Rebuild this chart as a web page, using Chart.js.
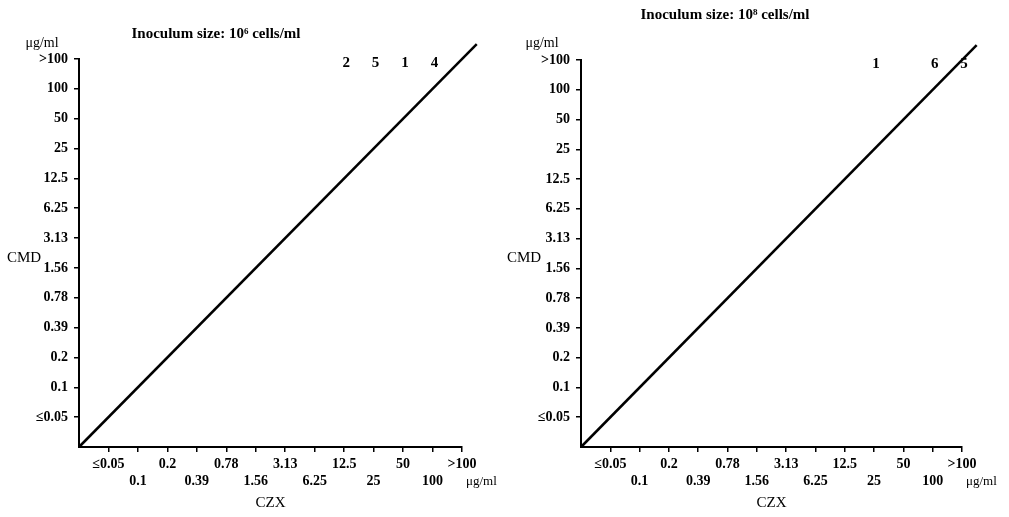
<!DOCTYPE html>
<html lang="en">
<head>
  <meta charset="UTF-8">
  <title>CMD vs CZX</title>
  <script src="https://cdn.jsdelivr.net/npm/chart.js"></script>
  <style>
    body { margin: 0; background: #fff; }
    .wrap { display: flex; width: 1009px; height: 517px; }
    canvas { display: block; }
  </style>
</head>
<body>

<div class="wrap">
  <canvas id="leftChart" width="504" height="517"></canvas>
  <canvas id="rightChart" width="505" height="517"></canvas>
</div>

<script>
  // concentration steps used on both axes (µg/ml)
  const concLabels = ['≤0.05', '0.1', '0.2', '0.39', '0.78', '1.56', '3.13', '6.25', '12.5', '25', '50', '100', '>100'];

  // left panel: strain counts (CZX column, CMD row)
  const leftTitle = 'Inoculum size: 10⁶ cells/ml';
  const leftCZX = ['12.5', '25', '50', '100'];
  const leftCMD = ['>100', '>100', '>100', '>100'];
  const leftCounts = [2, 5, 1, 4];

  // right panel
  const rightTitle = 'Inoculum size: 10⁸ cells/ml';
  const rightCZX = ['25', '100', '>100'];
  const rightCMD = ['>100', '>100', '>100'];
  const rightCounts = [1, 6, 5];

  // the line of equal MIC, from origin to beyond >100 (in steps)
  const diagonal = [-1, 12.5];

  const idx = c => concLabels.indexOf(c);
  const serif = '"Liberation Serif", "DejaVu Serif", serif';

  const textPlugin = {
    id: 'textPlugin',
    afterDraw(chart) {
      const ctx = chart.ctx;
      const o = chart.options.plugins.textPlugin;
      const area = chart.chartArea;
      ctx.save();
      ctx.fillStyle = '#000';
      ctx.textBaseline = 'middle';

      ctx.textAlign = 'center';
      ctx.font = 'bold 15px ' + serif;
      ctx.fillText(o.title, o.titleX, o.titleY);

      ctx.font = '14px ' + serif;
      ctx.fillText('μg/ml', o.unitX, 43);
      ctx.font = '15px ' + serif;
      ctx.fillText('CMD', o.cmdX, 258);

      ctx.textAlign = 'left';
      ctx.font = '13px ' + serif;
      ctx.fillText('μg/ml', area.right + 4, chart.scales.x.top + 35);

      // counts written at their cells
      ctx.textAlign = 'center';
      ctx.font = 'bold 15px ' + serif;
      const meta = chart.getDatasetMeta(1);
      const counts = chart.data.datasets[1].counts;
      meta.data.forEach((pt, i) => {
        ctx.fillText(String(counts[i]), pt.x + 2, pt.y + 4);
      });
      ctx.restore();
    }
  };

  function makeChart(id, p) {
    const axisBase = {
      type: 'linear',
      min: -1,
      max: 12,
      afterBuildTicks: s => { s.ticks = concLabels.map((_, i) => ({ value: i })); },
      border: { display: true, color: '#000', width: 2 },
      grid: { drawOnChartArea: false, color: '#000', lineWidth: 1.5, tickLength: 5 }
    };

    new Chart(document.getElementById(id), {
      type: 'scatter',
      data: {
        datasets: [
          {
            type: 'line',
            data: diagonal.map(v => ({ x: v, y: v })),
            borderColor: '#000',
            borderWidth: 2.5,
            pointRadius: 0,
            clip: false
          },
          {
            data: p.czx.map((c, i) => ({ x: idx(c), y: idx(p.cmd[i]) })),
            counts: p.counts,
            pointRadius: 0
          }
        ]
      },
      options: {
        responsive: false,
        animation: false,
        events: [],
        layout: { padding: { top: p.top, right: p.right, left: 0, bottom: 0 } },
        plugins: {
          legend: { display: false },
          tooltip: { enabled: false },
          textPlugin: p.text
        },
        scales: {
          x: Object.assign({}, axisBase, {
            afterFit: s => { s.height = 70; },
            ticks: {
              autoSkip: false,
              maxRotation: 0,
              padding: 4,
              color: '#000',
              font: { family: serif, size: 14, weight: 'bold', lineHeight: 1.2 },
              callback: v => v % 2 === 0 ? [concLabels[v], ''] : ['', concLabels[v]]
            },
            title: {
              display: true,
              text: 'CZX',
              color: '#000',
              font: { family: serif, size: 15 },
              padding: { top: 4, bottom: 5 }
            }
          }),
          y: Object.assign({}, axisBase, {
            afterFit: s => { s.width = p.yWidth; },
            ticks: {
              autoSkip: false,
              padding: 6,
              color: '#000',
              font: { family: serif, size: 14, weight: 'bold' },
              callback: v => concLabels[v]
            }
          })
        }
      },
      plugins: [textPlugin]
    });
  }

  makeChart('leftChart', {
    czx: leftCZX, cmd: leftCMD, counts: leftCounts,
    top: 59, right: 42, yWidth: 79,
    text: { title: leftTitle, titleX: 216, titleY: 34, unitX: 42, cmdX: 24 }
  });

  makeChart('rightChart', {
    czx: rightCZX, cmd: rightCMD, counts: rightCounts,
    top: 60, right: 47, yWidth: 77,
    text: { title: rightTitle, titleX: 221, titleY: 15, unitX: 38, cmdX: 20 }
  });
</script>

</body>
</html>
